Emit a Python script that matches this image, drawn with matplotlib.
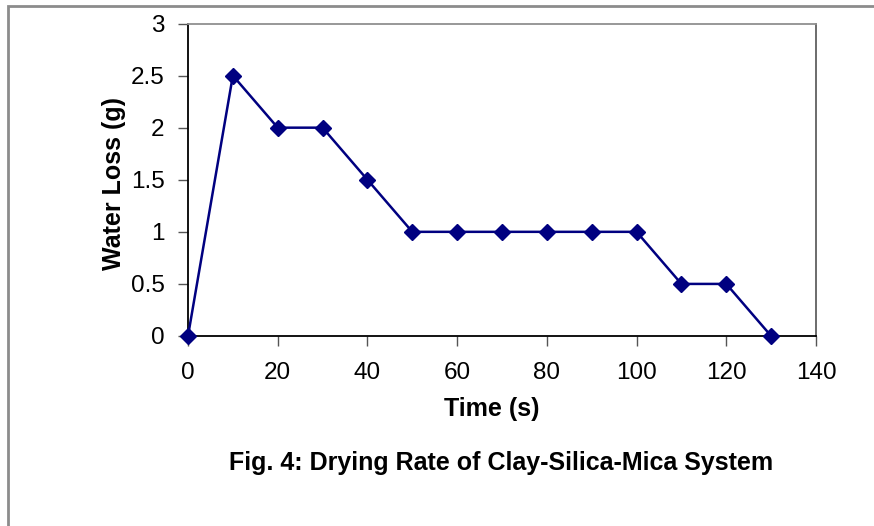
import matplotlib
matplotlib.use("Agg")
import matplotlib.pyplot as plt
from matplotlib.patches import Rectangle

time_s = [0, 10, 20, 30, 40, 50, 60, 70, 80, 90, 100, 110, 120, 130]
water_loss = [0, 2.5, 2, 2, 1.5, 1, 1, 1, 1, 1, 1, 0.5, 0.5, 0]
x_ticks = [0, 20, 40, 60, 80, 100, 120, 140]
y_ticks = [0, 0.5, 1, 1.5, 2, 2.5, 3]
y_tick_labels = ["0", "0.5", "1", "1.5", "2", "2.5", "3"]

plt.rcParams['font.family'] = ['Liberation Sans', 'DejaVu Sans']

W, H = 874, 526
fig = plt.figure(figsize=(W/100, H/100), dpi=100)
fig.patch.set_facecolor('white')

# outer chart border
fig.patches.append(Rectangle((8/W, -0.01), 1.0, 1 - 6/H + 0.01, transform=fig.transFigure,
                             fill=False, edgecolor='#8c8c8c', linewidth=2))

ax = fig.add_axes([188/W, 1 - 336/H, (816-188)/W, (336-23.5)/H])
ax.plot(time_s, water_loss, color='#000080', linewidth=1.8, marker='D', markersize=8.5,
        markerfacecolor='#000080', markeredgecolor='#000080', clip_on=False, zorder=5)

ax.set_xlim(0, 140)
ax.set_ylim(0, 3)
ax.set_xticks(x_ticks)
ax.set_yticks(y_ticks)
ax.set_yticklabels(y_tick_labels)
ax.tick_params(axis='both', direction='out', length=7, width=1, color='#555555',
               labelsize=17.5)
ax.tick_params(axis='y', pad=10)
ax.tick_params(axis='x', pad=12)

ax.spines['left'].set_color('black')
ax.spines['bottom'].set_color('black')
ax.spines['top'].set_color('#909090')
ax.spines['right'].set_color('#606060')
for s in ax.spines.values():
    s.set_linewidth(1.3)

fig.text(114/W, 1 - 183/H, "Water Loss (g)", rotation=90, ha='center', va='center',
         fontsize=18, fontweight='bold')
fig.text(492/W, 1 - 409/H, "Time (s)", ha='center', va='center',
         fontsize=18, fontweight='bold')
fig.text(501/W, 1 - 463/H, "Fig. 4: Drying Rate of Clay-Silica-Mica System",
         ha='center', va='center', fontsize=18, fontweight='bold')

fig.savefig("out.png", dpi=100)
